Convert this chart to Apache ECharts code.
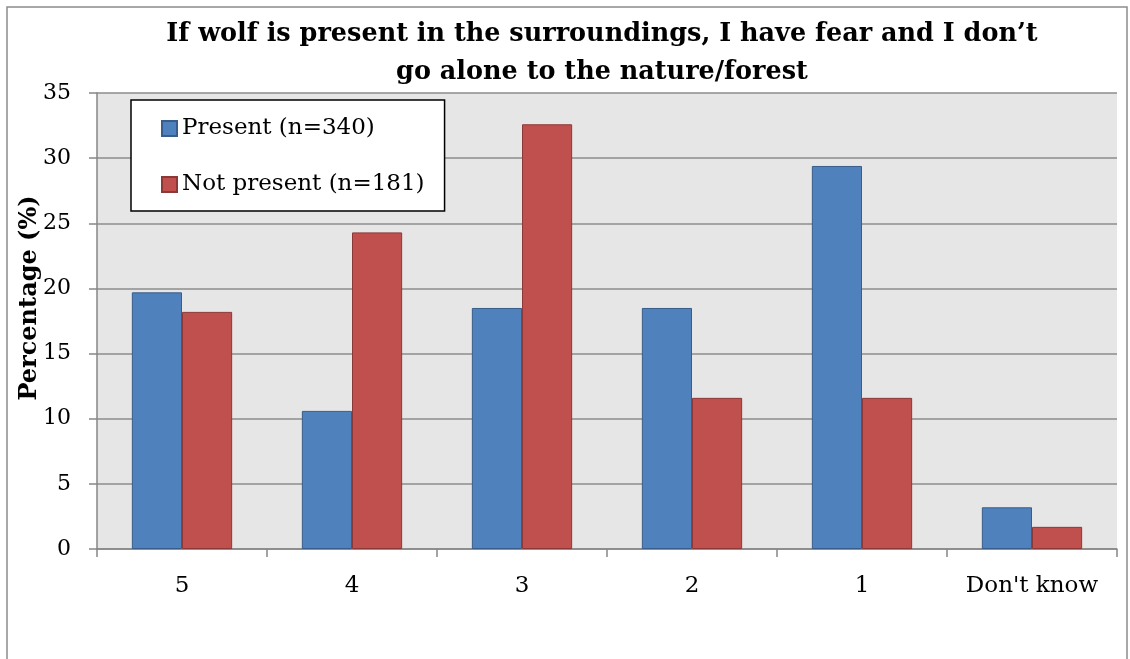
<!DOCTYPE html>
<html>
<head>
<meta charset="utf-8">
<script src="https://cdn.jsdelivr.net/npm/echarts@6/dist/echarts.min.js"></script>
<style>
html,body{margin:0;padding:0;background:#fff;}
#chart{width:1130px;height:659px;}
</style>
</head>
<body>
<div id="chart"></div>
<script>
const titleText = "If wolf is present in the surroundings, I have fear and I don’t\ngo alone to the nature/forest";
const categories = ["5", "4", "3", "2", "1", "Don't know"];
const presentName = "Present (n=340)";
const notPresentName = "Not present (n=181)";
const presentValues = [19.7, 10.6, 18.5, 18.5, 29.4, 3.2];
const notPresentValues = [18.2, 24.3, 32.6, 11.6, 11.6, 1.7];
const yTicks = { min: 0, max: 35, interval: 5 };
const yAxisName = "Percentage (%)";

const FONT = "'DejaVu Serif', serif";
const chart = echarts.init(document.getElementById('chart'), null, {renderer: 'canvas'});
chart.setOption({
  backgroundColor: '#ffffff',
  animation: false,
  graphic: [{
    type: 'rect',
    shape: { x: 7, y: 7, width: 1120, height: 700 },
    style: { fill: 'none', stroke: '#8c8c8c', lineWidth: 1.5 },
    silent: true
  }],
  title: {
    text: titleText,
    left: 597,
    textAlign: 'center',
    top: 10,
    textStyle: { fontFamily: FONT, fontWeight: 'bold', fontSize: 25.5, lineHeight: 38, color: '#000' }
  },
  legend: {
    orient: 'vertical',
    left: 131,
    top: 100,
    backgroundColor: '#ffffff',
    borderColor: '#000000',
    borderWidth: 1.5,
    borderRadius: 0,
    padding: [17, 20, 15, 30],
    itemGap: 33,
    itemWidth: 15,
    itemHeight: 15,
    icon: 'rect',
    textStyle: { fontFamily: FONT, fontSize: 23, color: '#000' },
    data: [presentName, notPresentName]
  },
  grid: {
    left: 97, right: 13, top: 93, bottom: 110,
    show: true, backgroundColor: '#e6e6e6', borderWidth: 0
  },
  xAxis: {
    type: 'category',
    data: categories,
    axisLine: { show: true, lineStyle: { color: '#868686', width: 1.5 } },
    axisTick: { show: true, length: 8, lineStyle: { color: '#868686', width: 1.5 } },
    axisLabel: { fontFamily: FONT, fontSize: 23, color: '#000', margin: 26, interval: 0 },
    splitLine: { show: false }
  },
  yAxis: {
    type: 'value',
    min: yTicks.min, max: yTicks.max, interval: yTicks.interval,
    name: yAxisName,
    nameLocation: 'middle',
    nameGap: 55,
    nameMoveOverlap: false,
    nameTextStyle: { fontFamily: FONT, fontWeight: 'bold', fontSize: 24, color: '#000', padding: [0, 0, 0, 46] },
    axisLine: { show: true, lineStyle: { color: '#868686', width: 1.5 } },
    axisTick: { show: true, length: 8, lineStyle: { color: '#868686', width: 1.5 } },
    axisLabel: { fontFamily: FONT, fontSize: 22, color: '#000', margin: 26 },
    splitLine: { show: true, lineStyle: { color: '#8c8c8c', width: 1.5 } }
  },
  series: [{
    name: presentName,
    type: 'bar',
    data: presentValues,
    barGap: '0%',
    barCategoryGap: '41%',
    itemStyle: { color: '#4f81bd', borderColor: '#385d8a', borderWidth: 1 }
  }, {
    name: notPresentName,
    type: 'bar',
    data: notPresentValues,
    barGap: '0%',
    barCategoryGap: '41%',
    itemStyle: { color: '#c0504d', borderColor: '#8c3836', borderWidth: 1 }
  }]
});
</script>
</body>
</html>
